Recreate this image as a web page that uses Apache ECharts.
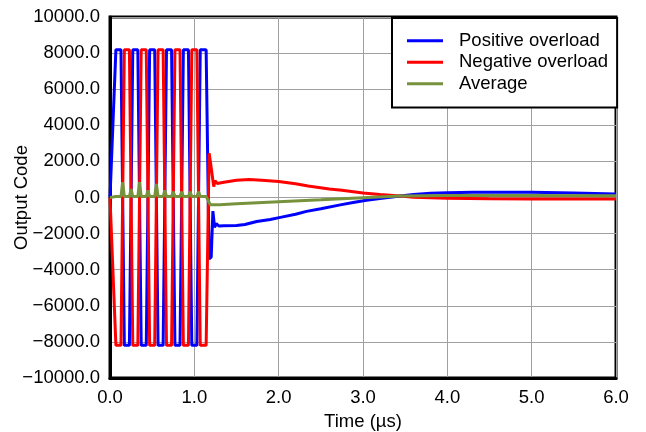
<!DOCTYPE html>
<html>
<head>
<meta charset="utf-8">
<script src="https://cdn.jsdelivr.net/npm/echarts@6/dist/echarts.min.js"></script>
<style>
html,body{margin:0;padding:0;background:#fff;}
#chart{width:646px;height:432px;}
</style>
</head>
<body>
<div id="chart"></div>
<script>
// ---- Data ----
var seriesNames = ['Positive overload', 'Negative overload', 'Average'];
var xTicks = [0, 1, 2, 3, 4, 5, 6];
var yTicks = [-10000, -8000, -6000, -4000, -2000, 0, 2000, 4000, 6000, 8000, 10000];

var posT = [0, 0.02, 0.07, 0.13, 0.17, 0.23, 0.27, 0.33, 0.37, 0.43, 0.47, 0.53, 0.57, 0.63, 0.67, 0.73, 0.77, 0.83, 0.87, 0.93, 0.97, 1.03, 1.07, 1.14,
  1.175, 1.20, 1.22, 1.24, 1.26, 1.29, 1.35, 1.5, 1.6, 1.74, 1.9, 2.02, 2.2, 2.33, 2.5, 2.73, 2.9, 3.04, 3.2, 3.44, 3.6, 3.8, 4.0, 4.3, 4.6, 5.0, 5.5, 6.0];
var posV = [0, 0, 8191, 8191, -8192, -8192, 8191, 8191, -8192, -8192, 8191, 8191, -8192, -8192, 8191, 8191, -8192, -8192, 8191, 8191, -8192, -8192, 8191, 8191,
  -3400, -3300, -750, -1650, -1450, -1580, -1560, -1550, -1500, -1330, -1220, -1100, -930, -770, -620, -410, -260, -150, -50, 80, 160, 230, 265, 285, 295, 290, 250, 200];

var negT = [0, 0.02, 0.07, 0.13, 0.17, 0.23, 0.27, 0.33, 0.37, 0.43, 0.47, 0.53, 0.57, 0.63, 0.67, 0.73, 0.77, 0.83, 0.87, 0.93, 0.97, 1.03, 1.07, 1.14,
  1.175, 1.19, 1.23, 1.245, 1.27, 1.35, 1.5, 1.65, 1.8, 2.0, 2.2, 2.35, 2.6, 2.75, 3.0, 3.2, 3.44, 3.6, 3.8, 4.0, 4.5, 5.0, 6.0];
var negV = [0, 0, -8192, -8192, 8191, 8191, -8192, -8192, 8191, 8191, -8192, -8192, 8191, 8191, -8192, -8192, 8191, 8191, -8192, -8192, 8191, 8191, -8192, -8192,
  2450, 2000, 600, 930, 780, 850, 950, 1000, 960, 890, 760, 640, 470, 400, 250, 160, 80, 20, -20, -45, -75, -85, -85];

var avgT = [0, 0.02, 0.07, 0.13, 0.15, 0.17, 0.23, 0.25, 0.27, 0.33, 0.35, 0.37, 0.43, 0.45, 0.47, 0.53, 0.55, 0.57, 0.63, 0.65, 0.67, 0.73, 0.75, 0.77,
  0.83, 0.85, 0.87, 0.93, 0.95, 0.97, 1.03, 1.05, 1.07, 1.14, 1.19, 1.3, 1.5, 2.0, 2.5, 3.0, 3.44, 4.0, 5.0, 6.0];
var avgV = [0, 30, 50, 50, 850, 50, 50, 470, 50, 50, 850, 50, 50, 400, 50, 50, 750, 50, 50, 400, 50, 50, 320, 50,
  50, 320, 50, 50, 320, 50, 50, 320, 50, 50, -400, -400, -340, -230, -130, -20, 80, 110, 105, 100];

var colors = ['#0000ff', '#ff0000', '#76923c'];

function pairs(t, v) { var out = []; for (var i = 0; i < t.length; i++) out.push([t[i], v[i]]); return out; }
var seriesData = [pairs(posT, posV), pairs(negT, negV), pairs(avgT, avgV)];

var font = '"Liberation Sans", Arial, sans-serif';
var fs = 18.5;
var chart = echarts.init(document.getElementById('chart'), null, {renderer: 'canvas'});
chart.setOption({
  animation: false,
  backgroundColor: '#fff',
  grid: {left: 110, right: 30, top: 17, bottom: 54, containLabel: false, outerBoundsMode: 'none',
    show: true, borderColor: '#000', borderWidth: 3, backgroundColor: 'transparent'},
  legend: {
    orient: 'vertical', left: 392, top: 18,
    data: seriesNames,
    icon: 'rect', itemWidth: 36, itemHeight: 3, itemGap: 0,
    padding: [12, 9, 13, 15],
    backgroundColor: '#fff', borderColor: '#000', borderWidth: 2, borderRadius: 0,
    textStyle: {fontFamily: font, fontSize: fs, color: '#000', lineHeight: 21.5, padding: [0, 0, 0, 11]}
  },
  xAxis: {
    type: 'value', min: xTicks[0], max: xTicks[xTicks.length - 1], interval: 1,
    name: 'Time (µs)', nameLocation: 'middle', nameGap: 34, nameMoveOverlap: false,
    nameTextStyle: {fontFamily: font, fontSize: fs, color: '#000'},
    axisLine: {show: true, onZero: false, lineStyle: {color: '#000', width: 3}},
    axisTick: {show: false},
    axisLabel: {fontFamily: font, fontSize: fs, color: '#000', margin: 10, formatter: function (v) { return v.toFixed(1); }},
    splitLine: {show: true, lineStyle: {color: '#a0a0a0', width: 1}}
  },
  yAxis: {
    type: 'value', min: yTicks[0], max: yTicks[yTicks.length - 1], interval: 2000,
    name: 'Output Code', nameLocation: 'middle', nameGap: 79, nameMoveOverlap: false,
    nameTextStyle: {fontFamily: font, fontSize: fs, color: '#000'},
    axisLine: {show: true, onZero: false, lineStyle: {color: '#000', width: 3}},
    axisTick: {show: false},
    axisLabel: {fontFamily: font, fontSize: fs, color: '#000', margin: 10, formatter: function (v) { return (v < 0 ? '\u2212' : '') + Math.abs(v).toFixed(1); }},
    splitLine: {show: true, lineStyle: {color: '#a0a0a0', width: 1}}
  },
  series: seriesNames.map(function (n, i) {
    return {
      name: n, type: 'line', data: seriesData[i], showSymbol: false, symbol: 'none',
      color: colors[i],
      lineStyle: {color: colors[i], width: 3},
      z: 2 + i
    };
  })
});
</script>
</body>
</html>
